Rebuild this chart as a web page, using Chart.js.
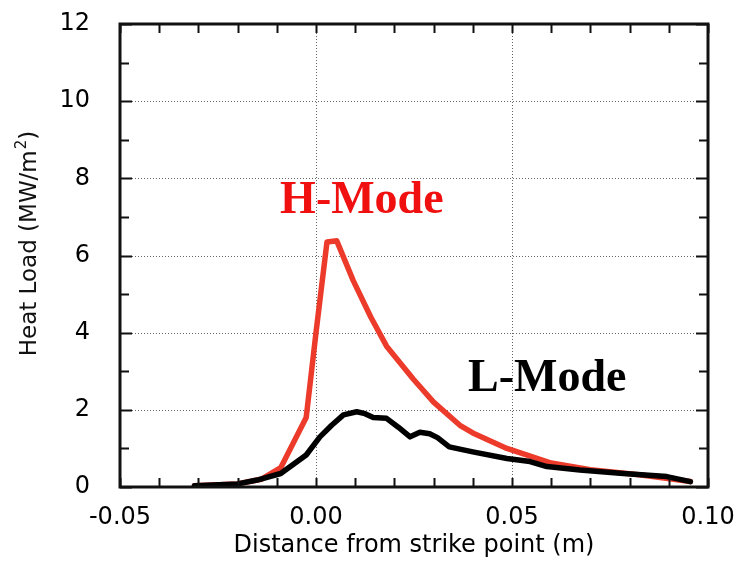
<!DOCTYPE html>
<html>
<head>
<meta charset="utf-8">
<script src="https://cdn.jsdelivr.net/npm/chart.js@4"></script>
<style>
  html, body { margin: 0; padding: 0; background: #fff; }
  #wrap { width: 740px; height: 562px; }
</style>
</head>
<body>
<div id="wrap"><canvas id="heatChart" width="740" height="562"></canvas></div>
<script>
// --- data ---
const hModeX = [-0.031, -0.02, -0.014, -0.009, -0.0025, 0.0, 0.0028, 0.0053, 0.0095, 0.014, 0.018, 0.0248, 0.030, 0.0367, 0.040, 0.0487, 0.060, 0.070, 0.083, 0.0955];
const hModeY = [0.03, 0.08, 0.2, 0.5, 1.8, 4.0, 6.35, 6.38, 5.35, 4.4, 3.65, 2.8, 2.2, 1.6, 1.4, 1.0, 0.62, 0.45, 0.31, 0.14];

const lModeX = [-0.031, -0.02, -0.015, -0.009, -0.0025, 0.001, 0.004, 0.007, 0.0104, 0.0125, 0.0146, 0.018, 0.021, 0.024, 0.0265, 0.029, 0.031, 0.034, 0.040, 0.0487, 0.0546, 0.0589, 0.0673, 0.0784, 0.0895, 0.0955];
const lModeY = [0.03, 0.08, 0.18, 0.35, 0.83, 1.3, 1.6, 1.87, 1.95, 1.9, 1.8, 1.78, 1.55, 1.3, 1.42, 1.38, 1.28, 1.04, 0.91, 0.74, 0.66, 0.53, 0.44, 0.35, 0.27, 0.14];

const xTicks = [-0.05, 0.0, 0.05, 0.10];
const yTicks = [0, 2, 4, 6, 8, 10, 12];
const xMinorStep = 0.01;
const yMinorStep = 1;

const seriesLabels = ['H-Mode', 'L-Mode'];
const yTitle = ['Heat Load (MW/m', '2', ')'];

const toPoints = (xs, ys) => xs.map((x, i) => ({ x: x, y: ys[i] }));

// frame, dotted grid, inward ticks, curve labels, y title with superscript
const framePlugin = {
    id: 'frame',
    beforeDatasetsDraw(chart) {
        const { ctx, chartArea: a, scales: { x, y } } = chart;
        ctx.save();
        ctx.strokeStyle = '#666';
        ctx.lineWidth = 1;
        ctx.setLineDash([1, 2]);
        xTicks.slice(1, -1).forEach(v => {
            const px = Math.round(x.getPixelForValue(v)) + 0.5;
            ctx.beginPath(); ctx.moveTo(px, a.top); ctx.lineTo(px, a.bottom); ctx.stroke();
        });
        yTicks.slice(1, -1).forEach(v => {
            const py = Math.round(y.getPixelForValue(v)) + 0.5;
            ctx.beginPath(); ctx.moveTo(a.left, py); ctx.lineTo(a.right, py); ctx.stroke();
        });
        ctx.restore();
    },
    afterDatasetsDraw(chart) {
        const { ctx, chartArea: a, scales: { x, y } } = chart;
        ctx.save();
        ctx.strokeStyle = '#111';
        ctx.lineWidth = 2;
        ctx.setLineDash([]);
        // minor x ticks top & bottom
        for (let v = -0.05; v <= 0.1 + 1e-9; v += xMinorStep) {
            const px = Math.round(x.getPixelForValue(v)) + 0.5;
            ctx.beginPath();
            ctx.moveTo(px, a.bottom); ctx.lineTo(px, a.bottom - 9);
            ctx.moveTo(px, a.top); ctx.lineTo(px, a.top + 9);
            ctx.stroke();
        }
        // y ticks left & right
        for (let v = 0; v <= 12; v += yMinorStep) {
            const py = Math.round(y.getPixelForValue(v)) + 0.5;
            const len = v % 2 === 0 ? 12 : 9;
            ctx.beginPath();
            ctx.moveTo(a.left, py); ctx.lineTo(a.left + len, py);
            ctx.moveTo(a.right, py); ctx.lineTo(a.right - len, py);
            ctx.stroke();
        }
        ctx.lineWidth = 3;
        ctx.strokeRect(a.left, a.top, a.right - a.left, a.bottom - a.top);

        // curve labels
        ctx.font = 'bold 46px "Liberation Serif", "Times New Roman", serif';
        ctx.textAlign = 'center';
        ctx.textBaseline = 'alphabetic';
        ctx.fillStyle = '#f01010';
        ctx.fillText(seriesLabels[0], x.getPixelForValue(0.0117), y.getPixelForValue(7.1));
        ctx.fillStyle = '#000';
        ctx.fillText(seriesLabels[1], x.getPixelForValue(0.059), y.getPixelForValue(2.48));

        // y axis title, rotated, with a raised "2"
        const bigFont = '23px "DejaVu Sans", sans-serif';
        const smallFont = '15px "DejaVu Sans", sans-serif';
        ctx.font = bigFont;
        const w0 = ctx.measureText(yTitle[0]).width;
        const w2 = ctx.measureText(yTitle[2]).width;
        ctx.font = smallFont;
        const w1 = ctx.measureText(yTitle[1]).width;
        const total = w0 + w1 + w2;
        ctx.translate(36, 244);
        ctx.rotate(-Math.PI / 2);
        ctx.fillStyle = '#111';
        ctx.textAlign = 'left';
        ctx.textBaseline = 'alphabetic';
        let cx = -total / 2;
        ctx.font = bigFont;
        ctx.fillText(yTitle[0], cx, 0);
        cx += w0;
        ctx.font = smallFont;
        ctx.fillText(yTitle[1], cx + 1, -10);
        cx += w1 + 1;
        ctx.font = bigFont;
        ctx.fillText(yTitle[2], cx, 0);
        ctx.restore();
    }
};

const ctx = document.getElementById('heatChart').getContext('2d');
const myChart = new Chart(ctx, {
    type: 'line',
    data: {
        datasets: [
            {
                label: seriesLabels[1],
                data: toPoints(lModeX, lModeY),
                borderColor: '#000',
                borderWidth: 5.5,
                pointRadius: 0,
                tension: 0,
                borderJoinStyle: 'round',
                borderCapStyle: 'round',
                order: 0
            },
            {
                label: seriesLabels[0],
                data: toPoints(hModeX, hModeY),
                borderColor: '#ec3b2b',
                borderWidth: 5.5,
                pointRadius: 0,
                tension: 0,
                borderJoinStyle: 'round',
                borderCapStyle: 'round',
                order: 1
            }
        ]
    },
    options: {
        responsive: false,
        animation: false,
        layout: { padding: { top: 24, right: 32, left: 0, bottom: 0 } },
        plugins: { legend: { display: false }, tooltip: { enabled: false } },
        scales: {
            x: {
                type: 'linear',
                min: -0.05,
                max: 0.1,
                grid: { display: false },
                border: { display: false },
                afterBuildTicks: s => { s.ticks = xTicks.map(v => ({ value: v })); },
                afterFit: s => { s.height = 75; s.paddingLeft = 0; s.paddingRight = 0; },
                ticks: {
                    color: '#000',
                    font: { family: '"DejaVu Sans", sans-serif', size: 24 },
                    padding: 8,
                    maxRotation: 0,
                    callback: v => v.toFixed(2)
                },
                title: {
                    display: true,
                    text: 'Distance from strike point (m)',
                    color: '#000',
                    font: { family: '"DejaVu Sans", sans-serif', size: 24 },
                    padding: { top: 0, bottom: 2 }
                }
            },
            y: {
                min: 0,
                max: 12,
                grid: { display: false },
                border: { display: false },
                afterBuildTicks: s => { s.ticks = yTicks.map(v => ({ value: v })); },
                afterFit: s => { s.width = 120; s.paddingTop = 0; s.paddingBottom = 0; },
                ticks: {
                    color: '#000',
                    font: { family: '"DejaVu Sans", sans-serif', size: 24 },
                    padding: 22
                }
            }
        }
    },
    plugins: [framePlugin]
});
</script>
</body>
</html>
